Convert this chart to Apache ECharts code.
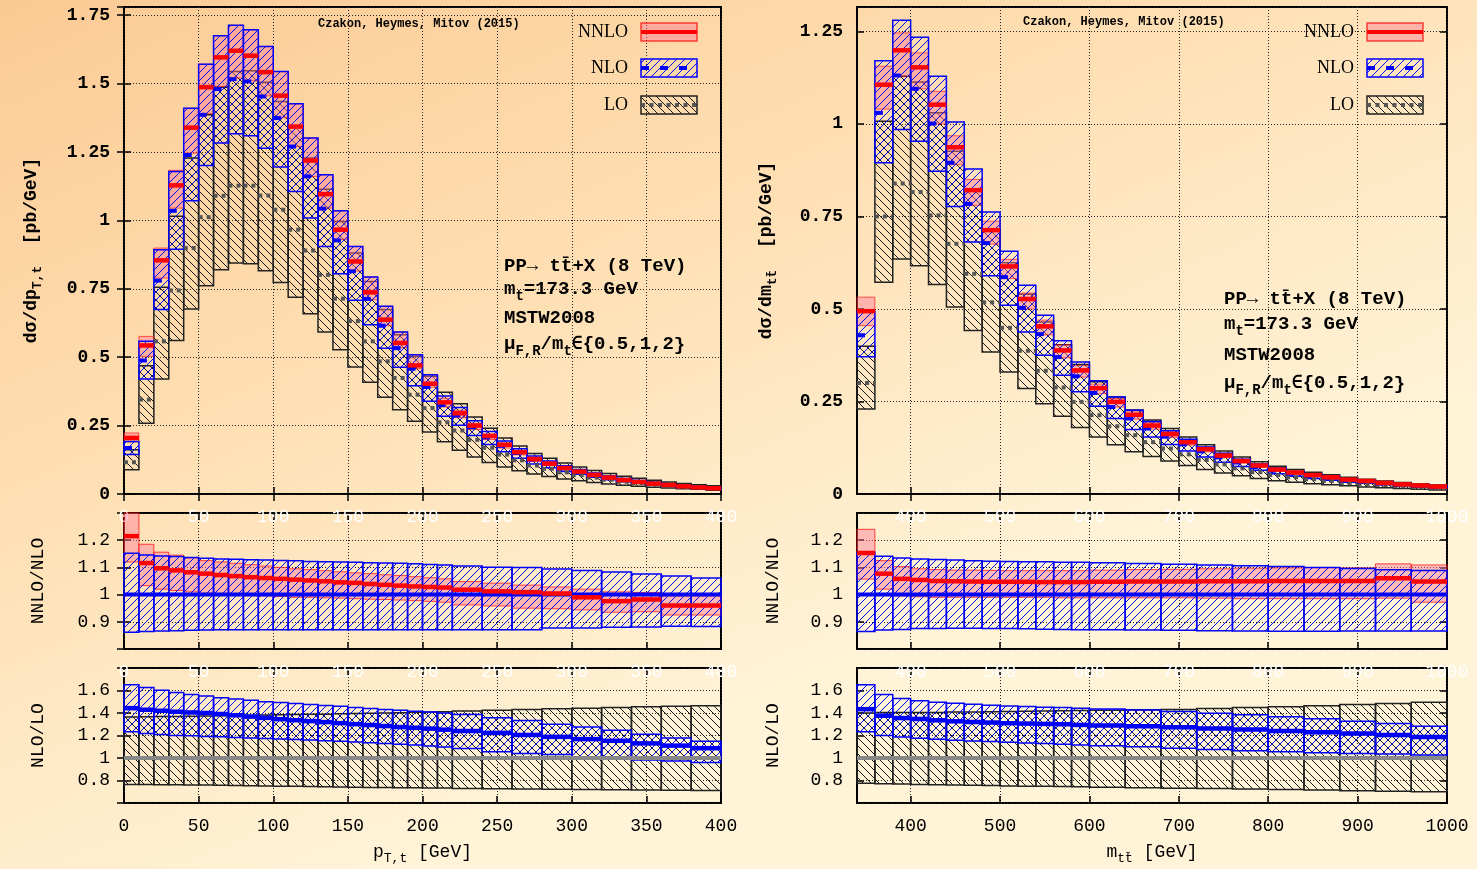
<!DOCTYPE html>
<html>
<head>
<meta charset="utf-8">
<script src="https://cdn.jsdelivr.net/npm/echarts@6/dist/echarts.min.js"></script>
<style>
html, body { margin: 0; padding: 0; }
#chart { width: 1477px; height: 869px; }
</style>
</head>
<body>
<div id="chart"></div>
<script>
// ---- pT,t distribution (10 GeV bins) ----
const ptEdges = [0,10,20,30,40,50,60,70,80,90,100,110,120,130,140,150,160,170,180,190,200,210,220,230,240,250,260,270,280,290,300,310,320,330,340,350,360,370,380,390,400];
const ptNNLO   = [0.205,0.543,0.854,1.128,1.339,1.487,1.596,1.620,1.602,1.542,1.456,1.343,1.219,1.096,0.966,0.850,0.737,0.637,0.552,0.470,0.403,0.335,0.295,0.250,0.212,0.180,0.153,0.128,0.111,0.095,0.082,0.070,0.060,0.051,0.044,0.038,0.033,0.028,0.024,0.021];
const ptNNLOlo = [0.190,0.503,0.789,1.045,1.246,1.390,1.490,1.520,1.510,1.455,1.375,1.270,1.160,1.045,0.930,0.815,0.710,0.615,0.535,0.458,0.390,0.318,0.279,0.236,0.199,0.168,0.143,0.119,0.104,0.089,0.077,0.066,0.056,0.048,0.041,0.036,0.031,0.026,0.023,0.020];
const ptNNLOhi = [0.223,0.576,0.899,1.183,1.410,1.571,1.675,1.713,1.697,1.636,1.544,1.426,1.301,1.167,1.035,0.905,0.793,0.686,0.592,0.509,0.436,0.350,0.306,0.259,0.219,0.186,0.158,0.132,0.114,0.098,0.085,0.072,0.062,0.053,0.046,0.039,0.034,0.029,0.025,0.022];
const ptNLO    = [0.168,0.488,0.780,1.035,1.239,1.386,1.480,1.516,1.508,1.453,1.374,1.270,1.161,1.043,0.927,0.814,0.713,0.615,0.533,0.458,0.391,0.325,0.287,0.244,0.207,0.176,0.150,0.126,0.110,0.094,0.082,0.070,0.060,0.052,0.045,0.039,0.034,0.029,0.025,0.022];
const ptNLOlo  = [0.144,0.420,0.674,0.895,1.072,1.201,1.283,1.317,1.309,1.264,1.195,1.106,1.009,0.905,0.805,0.708,0.619,0.533,0.463,0.396,0.339,0.284,0.251,0.214,0.181,0.154,0.131,0.110,0.096,0.082,0.072,0.061,0.052,0.045,0.039,0.034,0.030,0.025,0.022,0.019];
const ptNLOhi  = [0.192,0.558,0.893,1.179,1.410,1.571,1.675,1.713,1.697,1.636,1.544,1.426,1.301,1.167,1.035,0.905,0.793,0.686,0.592,0.509,0.436,0.358,0.316,0.268,0.228,0.194,0.165,0.139,0.121,0.103,0.090,0.077,0.066,0.057,0.049,0.043,0.037,0.032,0.027,0.023];
const ptLO     = [0.116,0.345,0.558,0.744,0.899,1.012,1.090,1.127,1.127,1.091,1.039,0.966,0.890,0.801,0.714,0.632,0.558,0.485,0.424,0.363,0.314,0.262,0.232,0.198,0.169,0.144,0.123,0.104,0.092,0.079,0.069,0.060,0.052,0.045,0.040,0.035,0.030,0.026,0.023,0.020];
const ptLOlo   = [0.089,0.259,0.420,0.561,0.676,0.761,0.820,0.844,0.842,0.816,0.773,0.719,0.659,0.592,0.527,0.464,0.408,0.354,0.308,0.266,0.227,0.191,0.160,0.135,0.115,0.099,0.085,0.073,0.064,0.055,0.048,0.042,0.037,0.032,0.028,0.025,0.022,0.019,0.017,0.014];
const ptLOhi   = [0.162,0.469,0.756,1.015,1.228,1.386,1.487,1.544,1.547,1.505,1.435,1.343,1.228,1.114,0.996,0.881,0.777,0.674,0.582,0.503,0.430,0.372,0.330,0.281,0.240,0.205,0.175,0.148,0.131,0.113,0.099,0.086,0.075,0.065,0.058,0.050,0.044,0.038,0.034,0.030];

// ---- pT,t ratios (wider bins above 220 GeV) ----
const rPtEdges = [0,10,20,30,40,50,60,70,80,90,100,110,120,130,140,150,160,170,180,190,200,210,220,240,260,280,300,320,340,360,380,400];
const ptR1NNLO   = [1.215,1.116,1.097,1.089,1.082,1.077,1.072,1.068,1.064,1.061,1.058,1.055,1.052,1.049,1.045,1.043,1.039,1.036,1.033,1.030,1.028,1.026,1.018,1.012,1.009,1.004,0.990,0.976,0.982,0.960,0.960];
const ptR1NNLOlo = [1.120,1.033,1.020,1.015,1.010,1.005,1.000,0.998,0.996,0.995,0.993,0.990,0.990,0.988,0.987,0.985,0.983,0.982,0.980,0.978,0.975,0.972,0.962,0.958,0.950,0.948,0.944,0.935,0.937,0.925,0.925];
const ptR1NNLOhi = [1.330,1.185,1.156,1.145,1.135,1.125,1.120,1.115,1.110,1.105,1.100,1.095,1.092,1.088,1.084,1.080,1.077,1.073,1.070,1.066,1.062,1.058,1.048,1.042,1.035,1.028,1.020,1.010,1.008,0.995,0.995];
const ptR1NLOlo  = [0.862,0.864,0.866,0.867,0.869,0.870,0.871,0.871,0.871,0.871,0.871,0.871,0.871,0.871,0.871,0.871,0.871,0.871,0.871,0.871,0.871,0.871,0.871,0.871,0.871,0.877,0.877,0.880,0.881,0.884,0.883];
const ptR1NLOhi  = [1.152,1.146,1.142,1.140,1.136,1.134,1.131,1.130,1.128,1.127,1.125,1.124,1.122,1.121,1.120,1.119,1.117,1.116,1.115,1.113,1.111,1.109,1.105,1.101,1.100,1.094,1.089,1.083,1.076,1.068,1.061];
const ptR2NLO    = [1.443,1.429,1.420,1.411,1.405,1.400,1.391,1.380,1.368,1.357,1.345,1.336,1.328,1.319,1.310,1.301,1.293,1.284,1.275,1.269,1.261,1.252,1.240,1.223,1.205,1.188,1.168,1.153,1.130,1.110,1.087];
const ptR2NLOlo  = [1.233,1.218,1.210,1.201,1.197,1.192,1.188,1.183,1.178,1.174,1.169,1.165,1.160,1.154,1.148,1.142,1.136,1.129,1.122,1.115,1.107,1.098,1.084,1.055,1.041,1.032,1.006,0.998,0.983,0.974,0.959];
const ptR2NLOhi  = [1.652,1.626,1.603,1.583,1.565,1.551,1.536,1.524,1.513,1.501,1.493,1.484,1.476,1.467,1.459,1.450,1.441,1.432,1.424,1.415,1.409,1.400,1.386,1.357,1.334,1.299,1.276,1.247,1.212,1.177,1.148];
const ptR2LOlo   = [0.765,0.764,0.763,0.762,0.761,0.760,0.758,0.756,0.754,0.752,0.750,0.748,0.746,0.744,0.742,0.740,0.738,0.737,0.736,0.735,0.734,0.733,0.730,0.727,0.725,0.722,0.720,0.718,0.716,0.714,0.712];
const ptR2LOhi   = [1.365,1.366,1.368,1.370,1.372,1.374,1.376,1.378,1.380,1.382,1.384,1.386,1.388,1.390,1.393,1.396,1.398,1.400,1.403,1.406,1.410,1.412,1.418,1.425,1.432,1.438,1.443,1.448,1.455,1.460,1.465];
const ptRef = [[0, 1], [400, 1]];

// ---- m_tt distribution (20 GeV bins) ----
const mEdges = [340,360,380,400,420,440,460,480,500,520,540,560,580,600,620,640,660,680,700,720,740,760,780,800,820,840,860,880,900,920,940,960,980,1000];
const mNNLO   = [0.494,1.106,1.199,1.153,1.052,0.937,0.821,0.713,0.615,0.527,0.453,0.388,0.334,0.286,0.249,0.214,0.185,0.162,0.140,0.121,0.104,0.089,0.077,0.066,0.058,0.051,0.045,0.039,0.035,0.030,0.026,0.023,0.020];
const mNNLOlo = [0.455,1.040,1.129,1.095,1.000,0.890,0.780,0.675,0.582,0.500,0.430,0.368,0.316,0.271,0.235,0.202,0.175,0.153,0.132,0.114,0.098,0.084,0.073,0.062,0.054,0.048,0.042,0.037,0.033,0.028,0.025,0.022,0.019];
const mNNLOhi = [0.532,1.156,1.246,1.192,1.088,0.968,0.850,0.737,0.634,0.543,0.470,0.403,0.347,0.297,0.258,0.222,0.194,0.170,0.147,0.127,0.110,0.094,0.081,0.070,0.061,0.054,0.047,0.041,0.037,0.032,0.028,0.025,0.022];
const mNLO    = [0.429,1.030,1.131,1.095,1.001,0.895,0.784,0.678,0.586,0.503,0.432,0.370,0.318,0.273,0.235,0.204,0.177,0.155,0.134,0.115,0.099,0.085,0.073,0.063,0.055,0.049,0.043,0.037,0.033,0.029,0.025,0.022,0.019];
const mNLOlo  = [0.371,0.895,0.985,0.953,0.872,0.777,0.681,0.590,0.510,0.438,0.375,0.321,0.276,0.237,0.204,0.174,0.154,0.134,0.116,0.100,0.086,0.074,0.064,0.055,0.048,0.042,0.037,0.032,0.029,0.025,0.022,0.019,0.017];
const mNLOhi  = [0.493,1.171,1.280,1.234,1.129,1.005,0.878,0.762,0.656,0.564,0.483,0.414,0.357,0.306,0.262,0.226,0.196,0.171,0.148,0.127,0.110,0.094,0.081,0.070,0.061,0.054,0.047,0.041,0.037,0.032,0.028,0.025,0.021];
const mLO     = [0.300,0.750,0.839,0.816,0.753,0.676,0.595,0.518,0.449,0.387,0.333,0.288,0.249,0.213,0.183,0.159,0.140,0.123,0.107,0.092,0.080,0.069,0.059,0.051,0.045,0.040,0.035,0.030,0.027,0.024,0.021,0.018,0.016];
const mLOlo   = [0.230,0.572,0.635,0.617,0.566,0.505,0.442,0.384,0.330,0.285,0.244,0.210,0.180,0.154,0.133,0.114,0.101,0.089,0.077,0.066,0.057,0.049,0.042,0.036,0.032,0.028,0.025,0.022,0.019,0.017,0.015,0.013,0.011];
const mLOhi   = [0.399,1.007,1.129,1.113,1.030,0.926,0.820,0.715,0.625,0.540,0.465,0.403,0.350,0.303,0.262,0.227,0.200,0.177,0.154,0.133,0.116,0.100,0.087,0.075,0.066,0.059,0.052,0.045,0.040,0.035,0.031,0.027,0.024];

// ---- m_tt ratios (40 GeV bins above 600 GeV) ----
const rMEdges = [340,360,380,400,420,440,460,480,500,520,540,560,580,600,640,680,720,760,800,840,880,920,960,1000];
const mR1NNLO   = [1.153,1.077,1.058,1.054,1.050,1.049,1.048,1.047,1.047,1.047,1.046,1.046,1.046,1.047,1.048,1.048,1.049,1.049,1.050,1.050,1.050,1.060,1.048];
const mR1NNLOlo = [1.057,1.020,0.995,0.992,0.990,0.990,0.990,0.990,0.990,0.990,0.990,0.988,0.988,0.988,0.988,0.988,0.987,0.985,0.985,0.985,0.985,0.987,0.972];
const mR1NNLOhi = [1.240,1.125,1.103,1.095,1.092,1.090,1.090,1.089,1.088,1.088,1.088,1.088,1.088,1.090,1.092,1.093,1.095,1.097,1.098,1.099,1.098,1.113,1.109];
const mR1NLOlo  = [0.864,0.870,0.872,0.875,0.875,0.876,0.876,0.875,0.875,0.874,0.873,0.872,0.871,0.871,0.870,0.869,0.867,0.866,0.865,0.865,0.866,0.866,0.866];
const mR1NLOhi  = [1.156,1.141,1.135,1.131,1.129,1.127,1.124,1.123,1.122,1.121,1.121,1.119,1.119,1.117,1.114,1.112,1.109,1.106,1.103,1.100,1.096,1.091,1.089];
const mR2NLO    = [1.434,1.376,1.355,1.347,1.335,1.326,1.320,1.315,1.309,1.306,1.303,1.300,1.294,1.288,1.283,1.274,1.262,1.253,1.239,1.230,1.218,1.204,1.187];
const mR2NLOlo  = [1.233,1.201,1.186,1.175,1.166,1.157,1.151,1.146,1.140,1.134,1.128,1.122,1.116,1.108,1.099,1.087,1.076,1.064,1.055,1.047,1.041,1.035,1.026];
const mR2NLOhi  = [1.652,1.564,1.529,1.509,1.495,1.486,1.477,1.469,1.463,1.457,1.451,1.448,1.442,1.436,1.427,1.413,1.398,1.384,1.366,1.349,1.326,1.306,1.283];
const mR2LOlo   = [0.775,0.772,0.768,0.765,0.762,0.760,0.757,0.755,0.752,0.750,0.748,0.746,0.744,0.740,0.736,0.732,0.728,0.724,0.720,0.715,0.710,0.705,0.700];
const mR2LOhi   = [1.400,1.405,1.405,1.405,1.405,1.408,1.410,1.412,1.413,1.415,1.418,1.420,1.422,1.425,1.428,1.432,1.440,1.448,1.455,1.465,1.475,1.485,1.495];
const mRef = [[340, 1], [1000, 1]];

const ptTicks = [0,50,100,150,200,250,300,350,400];
const mTicks = [400,500,600,700,800,900,1000];

const MONO = '"Liberation Mono", "DejaVu Sans Mono", monospace';
const SERIF = '"Liberation Serif", "DejaVu Serif", serif';
const PINK = 'rgba(255,120,150,0.45)';

function hatch(color, up, size, lw) {
  const c = document.createElement('canvas');
  c.width = size; c.height = size;
  const g = c.getContext('2d');
  g.strokeStyle = color;
  g.lineWidth = lw;
  g.beginPath();
  for (let k = -1; k <= 1; k++) {
    if (up) {
      g.moveTo(k * size, size); g.lineTo(k * size + size, 0);
    } else {
      g.moveTo(k * size, 0); g.lineTo(k * size + size, size);
    }
  }
  g.stroke();
  return c;
}
const hatchLO = {image: hatch('#1a1a1a', false, 8, 1), repeat: 'repeat'};
const hatchNLO = {image: hatch('#0000ff', true, 8, 1), repeat: 'repeat'};

function bandRender(fill, stroke, lw) {
  return function (params, api) {
    const a = api.coord([api.value(0), api.value(3)]);
    const b = api.coord([api.value(1), api.value(2)]);
    const cs = params.coordSys;
    const shape = echarts.graphic.clipRectByRect(
      {x: a[0], y: a[1], width: b[0] - a[0], height: b[1] - a[1]},
      {x: cs.x, y: cs.y, width: cs.width, height: cs.height});
    if (!shape) return;
    return {type: 'rect', shape: shape, style: {fill: fill, stroke: stroke, lineWidth: lw}};
  };
}
function stepRender(color, lw, dash) {
  return function (params, api) {
    const a = api.coord([api.value(0), api.value(2)]);
    const b = api.coord([api.value(1), api.value(2)]);
    return {type: 'line', shape: {x1: a[0], y1: a[1], x2: b[0], y2: b[1]},
      style: {stroke: color, lineWidth: lw, lineDash: dash}};
  };
}
function bandSeries(gi, edges, lo, hi, fill, stroke, lw, z) {
  return {type: 'custom', xAxisIndex: 2 * gi, yAxisIndex: 2 * gi, silent: true, z: z,
    encode: {x: [0, 1], y: [2, 3]},
    renderItem: bandRender(fill, stroke, lw),
    data: lo.map((v, i) => [edges[i], edges[i + 1], v, hi[i]])};
}
function stepSeries(gi, edges, c, color, lw, dash, z) {
  return {type: 'custom', xAxisIndex: 2 * gi, yAxisIndex: 2 * gi, silent: true, z: z,
    encode: {x: [0, 1], y: 2},
    renderItem: stepRender(color, lw, dash),
    data: c.map((v, i) => [edges[i], edges[i + 1], v])};
}
function refSeries(gi, data, color, z) {
  return {type: 'line', xAxisIndex: 2 * gi, yAxisIndex: 2 * gi, silent: true, z: z,
    data: data, symbol: 'none', lineStyle: {color: color, width: 4}};
}

const grids = [
  {left: 124, top: 7, width: 597, height: 487},
  {left: 124, top: 513, width: 597, height: 136},
  {left: 124, top: 668, width: 597, height: 135},
  {left: 857, top: 7, width: 590, height: 487},
  {left: 857, top: 513, width: 590, height: 136},
  {left: 857, top: 668, width: 590, height: 135}
].map(g => Object.assign(g, {show: true, borderColor: '#000', borderWidth: 2, containLabel: false, outerBoundsMode: 'none'}));

const tickStyle = {color: '#000', width: 1.5};
const gridLine = {show: true, lineStyle: {color: '#222', width: 1, type: [1, 2]}};
const sub = {fontFamily: MONO, fontSize: 13, lineHeight: 13, padding: [9, 0, 0, 0], verticalAlign: 'top'};

function xAxes(gi, min, max, ticks, color, name) {
  const main = {gridIndex: gi, type: 'value', min: min, max: max, position: 'bottom',
    axisLine: {show: false},
    axisTick: {show: true, inside: true, length: 7, lineStyle: tickStyle, customValues: ticks},
    axisLabel: {show: true, customValues: ticks, color: color, fontFamily: MONO, fontSize: 18, margin: 14,
      formatter: v => String(v)},
    splitLine: gridLine};
  if (name) {
    main.name = name;
    main.nameLocation = 'middle';
    main.nameGap = 40;
    main.nameTextStyle = {rich: {
      n: {fontFamily: MONO, fontSize: 18, lineHeight: 18, verticalAlign: 'top', color: '#000'},
      s: Object.assign({color: '#000'}, sub)}};
  }
  const mirror = {gridIndex: gi, type: 'value', min: min, max: max, position: 'top',
    axisLine: {show: false}, axisLabel: {show: false}, splitLine: {show: false},
    axisTick: {show: true, inside: true, length: 7, lineStyle: tickStyle, customValues: ticks}};
  return [main, mirror];
}
function yAxes(gi, min, max, interval, top, name, gap) {
  const main = {gridIndex: gi, type: 'value', min: min, max: max, interval: interval, position: 'left',
    axisLine: {show: false},
    axisTick: {show: true, inside: true, length: 7, lineStyle: tickStyle},
    axisLabel: {show: true, color: '#000', fontFamily: MONO, fontSize: 18,
      fontWeight: top ? 'bold' : 'normal', margin: 14, showMinLabel: top, showMaxLabel: false},
    splitLine: gridLine,
    name: name, nameLocation: 'middle', nameGap: gap, nameRotate: 90,
    nameTextStyle: {rich: {
      n: {fontFamily: MONO, fontSize: 18, lineHeight: 18, verticalAlign: 'top', color: '#000', fontWeight: top ? 'bold' : 'normal'},
      s: Object.assign({color: '#000', fontWeight: top ? 'bold' : 'normal'}, sub)}}};
  const mirror = {gridIndex: gi, type: 'value', min: min, max: max, interval: interval, position: 'right',
    axisLine: {show: false}, axisLabel: {show: false}, splitLine: {show: false},
    axisTick: {show: true, inside: true, length: 7, lineStyle: tickStyle}};
  return [main, mirror];
}

const xAxis = [].concat(
  xAxes(0, 0, 400, ptTicks, '#fff'),
  xAxes(1, 0, 400, ptTicks, '#fff'),
  xAxes(2, 0, 400, ptTicks, '#000', '{n|p}{s|T,t}{n| [GeV]}'),
  xAxes(3, 340, 1000, mTicks, '#fff'),
  xAxes(4, 340, 1000, mTicks, '#fff'),
  xAxes(5, 340, 1000, mTicks, '#000', '{n|m}{s|tt\u0304}{n| [GeV]}')
);
const yAxis = [].concat(
  yAxes(0, 0, 1.78, 0.25, true, '{n|d\u03c3/dp}{s|T,t}{n|  [pb/GeV]}', 84),
  yAxes(1, 0.8, 1.3, 0.1, false, '{n|NNLO/NLO}', 77),
  yAxes(2, 0.6, 1.8, 0.2, false, '{n|NLO/LO}', 77),
  yAxes(3, 0, 1.316, 0.25, true, '{n|d\u03c3/dm}{s|tt\u0304}{n|  [pb/GeV]}', 82),
  yAxes(4, 0.8, 1.3, 0.1, false, '{n|NNLO/NLO}', 75),
  yAxes(5, 0.6, 1.8, 0.2, false, '{n|NLO/LO}', 75)
);

function mainPanel(gi, e, d) {
  return [
    bandSeries(gi, e, d.LOlo, d.LOhi, hatchLO, '#222', 1.5, 2),
    bandSeries(gi, e, d.NNLOlo, d.NNLOhi, PINK, 'rgba(255,0,0,0.6)', 1, 3),
    bandSeries(gi, e, d.NLOlo, d.NLOhi, hatchNLO, '#0000ff', 1.5, 4),
    stepSeries(gi, e, d.LO, '#555', 4, [4, 4], 5),
    stepSeries(gi, e, d.NLO, '#0000ff', 4, [8, 11], 6),
    stepSeries(gi, e, d.NNLO, '#ff0000', 4.5, null, 7)
  ];
}

const series = [].concat(
  mainPanel(0, ptEdges, {NNLO: ptNNLO, NNLOlo: ptNNLOlo, NNLOhi: ptNNLOhi, NLO: ptNLO, NLOlo: ptNLOlo, NLOhi: ptNLOhi, LO: ptLO, LOlo: ptLOlo, LOhi: ptLOhi}),
  mainPanel(3, mEdges, {NNLO: mNNLO, NNLOlo: mNNLOlo, NNLOhi: mNNLOhi, NLO: mNLO, NLOlo: mNLOlo, NLOhi: mNLOhi, LO: mLO, LOlo: mLOlo, LOhi: mLOhi}),
  [
    bandSeries(1, rPtEdges, ptR1NNLOlo, ptR1NNLOhi, PINK, 'rgba(255,0,0,0.7)', 1, 2),
    bandSeries(1, rPtEdges, ptR1NLOlo, ptR1NLOhi, hatchNLO, '#0000ff', 1.5, 3),
    refSeries(1, ptRef, '#0000ff', 4),
    stepSeries(1, rPtEdges, ptR1NNLO, '#ff0000', 4.5, null, 5),
    bandSeries(2, rPtEdges, ptR2LOlo, ptR2LOhi, hatchLO, '#222', 1.5, 2),
    bandSeries(2, rPtEdges, ptR2NLOlo, ptR2NLOhi, hatchNLO, '#0000ff', 1.5, 3),
    refSeries(2, ptRef, '#888', 4),
    stepSeries(2, rPtEdges, ptR2NLO, '#0000ff', 4.5, null, 5),
    bandSeries(4, rMEdges, mR1NNLOlo, mR1NNLOhi, PINK, 'rgba(255,0,0,0.7)', 1, 2),
    bandSeries(4, rMEdges, mR1NLOlo, mR1NLOhi, hatchNLO, '#0000ff', 1.5, 3),
    refSeries(4, mRef, '#0000ff', 4),
    stepSeries(4, rMEdges, mR1NNLO, '#ff0000', 4.5, null, 5),
    bandSeries(5, rMEdges, mR2LOlo, mR2LOhi, hatchLO, '#222', 1.5, 2),
    bandSeries(5, rMEdges, mR2NLOlo, mR2NLOhi, hatchNLO, '#0000ff', 1.5, 3),
    refSeries(5, mRef, '#888', 4),
    stepSeries(5, rMEdges, mR2NLO, '#0000ff', 4.5, null, 5)
  ]
);

// legend swatches and annotation texts
function txt(x, y, text, font, align, rich) {
  return {type: 'text', x: x, y: y, z: 100,
    style: {text: text, font: font, fill: '#000', align: align, textAlign: align,
      verticalAlign: 'middle', textVerticalAlign: 'middle', rich: rich}};
}
function legend(xText, xSw) {
  const rows = [
    {label: 'NNLO', y: 32, fill: PINK, stroke: 'rgba(255,0,0,0.7)', color: '#ff0000', dash: null},
    {label: 'NLO', y: 68, fill: hatchNLO, stroke: '#0000ff', color: '#0000ff', dash: [8, 11]},
    {label: 'LO', y: 105, fill: hatchLO, stroke: '#222', color: '#555', dash: [4, 4.5]}
  ];
  const els = [];
  rows.forEach(r => {
    els.push(txt(xText, r.y, r.label, '18px ' + SERIF, 'right'));
    els.push({type: 'rect', z: 100, shape: {x: xSw, y: r.y - 9, width: 56, height: 18},
      style: {fill: r.fill, stroke: r.stroke, lineWidth: 1.5}});
    els.push({type: 'line', z: 101, shape: {x1: xSw, y1: r.y, x2: xSw + 56, y2: r.y},
      style: {stroke: r.color, lineWidth: 4, lineDash: r.dash}});
  });
  return els;
}
const annRich = {
  n: {fontFamily: MONO, fontWeight: 'bold', fontSize: 19, lineHeight: 20, verticalAlign: 'top'},
  e: {fontFamily: '"DejaVu Sans Mono", "DejaVu Sans"', fontWeight: 'bold', fontSize: 18, lineHeight: 20, verticalAlign: 'top'},
  s: {fontFamily: MONO, fontWeight: 'bold', fontSize: 14, lineHeight: 14, padding: [9, 0, 0, 0], verticalAlign: 'top'}
};
function annotation(x, ys) {
  const f = 'bold 19px ' + MONO;
  return [
    txt(x, ys[0], 'PP\u2192 tt\u0304+X (8 TeV)', f, 'left'),
    txt(x, ys[1], '{n|m}{s|t}{n|=173.3 GeV}', f, 'left', annRich),
    txt(x, ys[2], 'MSTW2008', f, 'left'),
    txt(x, ys[3], '{n|\u03bc}{s|F,R}{n|/m}{s|t}{e|\u2208}{n|{0.5,1,2}}', f, 'left', annRich)
  ];
}
const graphic = [].concat(
  legend(628, 641),
  legend(1354, 1367),
  annotation(504, [266, 290, 318, 345]),
  annotation(1224, [299, 325, 355, 384]),
  [txt(318, 24, 'Czakon, Heymes, Mitov (2015)', 'bold 12px ' + MONO, 'left'),
   txt(1023, 22, 'Czakon, Heymes, Mitov (2015)', 'bold 12px ' + MONO, 'left')]
);

const chart = echarts.init(document.getElementById('chart'), null, {renderer: 'canvas'});
chart.setOption({
  animation: false,
  backgroundColor: {type: 'linear', x: 0, y: 0, x2: 0.25, y2: 1,
    colorStops: [{offset: 0, color: '#fbca94'}, {offset: 0.5, color: '#fedfb3'}, {offset: 1, color: '#fff3d8'}]},
  grid: grids,
  xAxis: xAxis,
  yAxis: yAxis,
  series: series,
  graphic: graphic
});
</script>
</body>
</html>
